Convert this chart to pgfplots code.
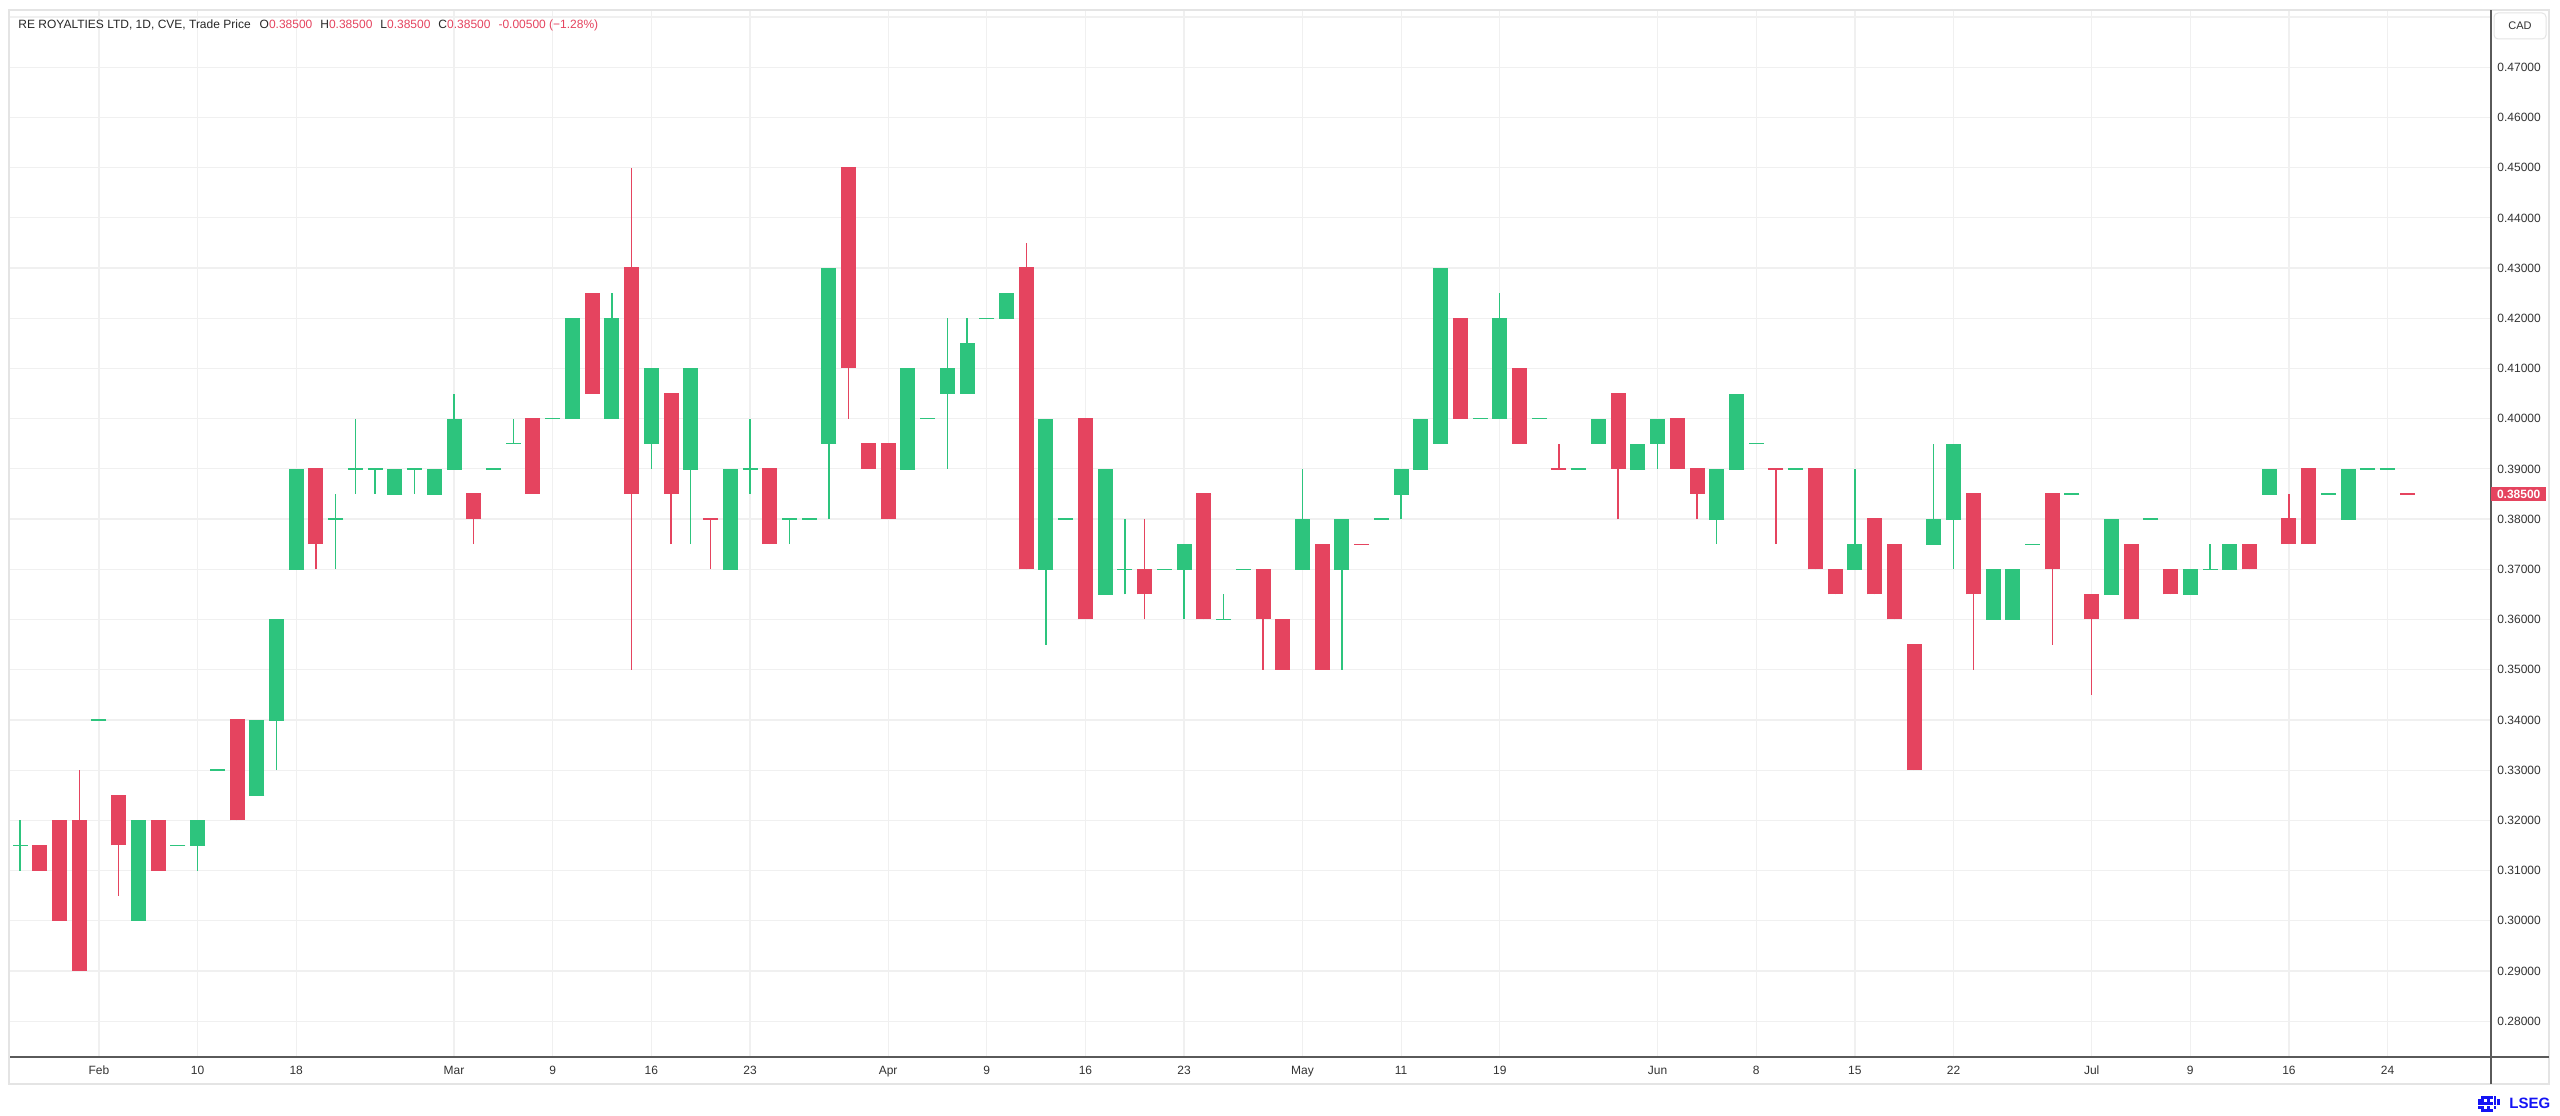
\documentclass[border=0pt]{standalone}
\usepackage{fontspec}
\setmainfont{Liberation Sans}
\usepackage{pgfplots}
\usepackage{pgfplotstable}
\pgfplotsset{compat=1.18}
\definecolor{upcol}{RGB}{45,196,125}
\definecolor{dncol}{RGB}{229,68,95}
\definecolor{gridcol}{RGB}{240,240,240}
\definecolor{tickcol}{RGB}{51,51,51}
\definecolor{hdrcol}{RGB}{40,40,40}
\definecolor{axcol}{RGB}{90,90,90}
\definecolor{framecol}{RGB}{228,228,228}
\definecolor{lsegblue}{RGB}{20,20,245}

% candles: x = trading-day index, o h l c
\pgfplotstableread{
x o h l c
0 0.315 0.32 0.31 0.315
4 0.34 0.34 0.34 0.34
6 0.30 0.32 0.30 0.32
8 0.315 0.315 0.315 0.315
9 0.315 0.32 0.31 0.32
10 0.33 0.33 0.33 0.33
12 0.325 0.34 0.325 0.34
13 0.34 0.36 0.33 0.36
14 0.37 0.39 0.37 0.39
16 0.38 0.385 0.37 0.38
17 0.39 0.40 0.385 0.39
18 0.39 0.39 0.385 0.39
19 0.385 0.39 0.385 0.39
20 0.39 0.39 0.385 0.39
21 0.385 0.39 0.385 0.39
22 0.39 0.405 0.39 0.40
24 0.39 0.39 0.39 0.39
25 0.395 0.40 0.395 0.395
27 0.40 0.40 0.40 0.40
28 0.40 0.42 0.40 0.42
30 0.40 0.425 0.40 0.42
32 0.395 0.41 0.39 0.41
34 0.39 0.41 0.375 0.41
36 0.37 0.39 0.37 0.39
37 0.39 0.40 0.385 0.39
39 0.38 0.38 0.375 0.38
40 0.38 0.38 0.38 0.38
41 0.395 0.43 0.38 0.43
45 0.39 0.41 0.39 0.41
46 0.40 0.40 0.40 0.40
47 0.405 0.42 0.39 0.41
48 0.405 0.42 0.405 0.415
49 0.42 0.42 0.42 0.42
50 0.42 0.425 0.42 0.425
52 0.37 0.40 0.355 0.40
53 0.38 0.38 0.38 0.38
55 0.365 0.39 0.365 0.39
56 0.37 0.38 0.365 0.37
58 0.37 0.37 0.37 0.37
59 0.37 0.375 0.36 0.375
61 0.36 0.365 0.36 0.36
62 0.37 0.37 0.37 0.37
65 0.37 0.39 0.37 0.38
67 0.37 0.38 0.35 0.38
69 0.38 0.38 0.38 0.38
70 0.385 0.39 0.38 0.39
71 0.39 0.40 0.39 0.40
72 0.395 0.43 0.395 0.43
74 0.40 0.40 0.40 0.40
75 0.40 0.425 0.40 0.42
77 0.40 0.40 0.40 0.40
79 0.39 0.39 0.39 0.39
80 0.395 0.40 0.395 0.40
82 0.39 0.395 0.39 0.395
83 0.395 0.40 0.39 0.40
86 0.38 0.39 0.375 0.39
87 0.39 0.405 0.39 0.405
88 0.395 0.395 0.395 0.395
90 0.39 0.39 0.39 0.39
93 0.37 0.39 0.37 0.375
97 0.375 0.395 0.375 0.38
98 0.38 0.395 0.37 0.395
100 0.36 0.37 0.36 0.37
101 0.36 0.37 0.36 0.37
102 0.375 0.375 0.375 0.375
104 0.385 0.385 0.385 0.385
106 0.365 0.38 0.365 0.38
108 0.38 0.38 0.38 0.38
110 0.365 0.37 0.365 0.37
111 0.37 0.375 0.37 0.37
112 0.37 0.375 0.37 0.375
114 0.385 0.39 0.385 0.39
117 0.385 0.385 0.385 0.385
118 0.38 0.39 0.38 0.39
119 0.39 0.39 0.39 0.39
120 0.39 0.39 0.39 0.39
}\upcandles

\pgfplotstableread{
x o h l c
1 0.315 0.315 0.31 0.31
2 0.32 0.32 0.30 0.30
3 0.32 0.33 0.29 0.29
5 0.325 0.325 0.305 0.315
7 0.32 0.32 0.31 0.31
11 0.34 0.34 0.32 0.32
15 0.39 0.39 0.37 0.375
23 0.385 0.385 0.375 0.38
26 0.40 0.40 0.385 0.385
29 0.425 0.425 0.405 0.405
31 0.43 0.45 0.35 0.385
33 0.405 0.405 0.375 0.385
35 0.38 0.38 0.37 0.38
38 0.39 0.39 0.375 0.375
42 0.45 0.45 0.40 0.41
43 0.395 0.395 0.39 0.39
44 0.395 0.395 0.38 0.38
51 0.43 0.435 0.37 0.37
54 0.40 0.40 0.36 0.36
57 0.37 0.38 0.36 0.365
60 0.385 0.385 0.36 0.36
63 0.37 0.37 0.35 0.36
64 0.36 0.36 0.35 0.35
66 0.375 0.375 0.35 0.35
68 0.375 0.375 0.375 0.375
73 0.42 0.42 0.40 0.40
76 0.41 0.41 0.395 0.395
78 0.39 0.395 0.39 0.39
81 0.405 0.405 0.38 0.39
84 0.40 0.40 0.39 0.39
85 0.39 0.39 0.38 0.385
89 0.39 0.39 0.375 0.39
91 0.39 0.39 0.37 0.37
92 0.37 0.37 0.365 0.365
94 0.38 0.38 0.365 0.365
95 0.375 0.375 0.36 0.36
96 0.355 0.355 0.33 0.33
99 0.385 0.385 0.35 0.365
103 0.385 0.385 0.355 0.37
105 0.365 0.365 0.345 0.36
107 0.375 0.375 0.36 0.36
109 0.37 0.37 0.365 0.365
113 0.375 0.375 0.37 0.37
115 0.38 0.385 0.375 0.375
116 0.39 0.39 0.375 0.375
121 0.385 0.385 0.385 0.385
}\downcandles

\begin{document}
\begin{tikzpicture}
\fill[white, use as bounding box] (0pt,0pt) rectangle (1280pt,557.5pt);
\begin{axis}[
  at={(5pt,29pt)}, anchor=south west,
  scale only axis, width=1240.5pt, height=523.5pt,
  xmin=-0.507, xmax=125.24, ymin=0.27285, ymax=0.48141,
  axis line style={draw=none},
  major tick length=0pt, tick style={draw=none},
  grid=major, major grid style={draw=gridcol, line width=0.6pt},
  xtick={4,9,14,22,27,32,37,44,49,54,59,65,70,75,83,88,93,98,105,110,115,120},
  xticklabels={Feb,10,18,Mar,9,16,23,Apr,9,16,23,May,11,19,Jun,8,15,22,Jul,9,16,24},
  ytick={0.28,0.29,0.30,0.31,0.32,0.33,0.34,0.35,0.36,0.37,0.38,0.39,0.40,0.41,0.42,0.43,0.44,0.45,0.46,0.47},
  extra y ticks={0.48}, extra y tick labels={},
  extra y tick style={grid=major, major grid style={draw=gridcol, line width=0.6pt}},
  yticklabel pos=right,
  scaled y ticks=false,
  yticklabel style={/pgf/number format/fixed, /pgf/number format/fixed zerofill,
    /pgf/number format/precision=5, /pgf/number format/assume math mode=true,
    anchor=west, inner sep=0pt, xshift=3pt},
  ticklabel style={font=\fontsize{6}{7}\selectfont, text=tickcol},
  xticklabel style={anchor=base, yshift=-8.65pt},
  candle/.style={draw=none, mark=none, forget plot,
    error bars/y dir=plus, error bars/y explicit, error bars/error mark=none},
]
% wicks
\addplot[candle, error bars/error bar style={line width=0.65pt, draw=upcol}]
  table[x=x, y=l, y error plus expr=\thisrow{h}-\thisrow{l}] {\upcandles};
\addplot[candle, error bars/error bar style={line width=0.65pt, draw=dncol}]
  table[x=x, y=l, y error plus expr=\thisrow{h}-\thisrow{l}] {\downcandles};
% open level dashes (visible for doji)
\addplot[only marks, mark=-, mark size=3.75pt, mark options={line width=0.65pt, draw=upcol}, forget plot]
  table[x=x, y=o] {\upcandles};
\addplot[only marks, mark=-, mark size=3.75pt, mark options={line width=0.65pt, draw=dncol}, forget plot]
  table[x=x, y=o] {\downcandles};
% bodies
\addplot[candle, error bars/error bar style={line width=7.5pt, draw=upcol}]
  table[x=x, y expr={min(\thisrow{o},\thisrow{c})}, y error plus expr={abs(\thisrow{c}-\thisrow{o})}] {\upcandles};
\addplot[candle, error bars/error bar style={line width=7.5pt, draw=dncol}]
  table[x=x, y expr={min(\thisrow{o},\thisrow{c})}, y error plus expr={abs(\thisrow{c}-\thisrow{o})}] {\downcandles};
\end{axis}
% frame and axis lines
\draw[framecol, line width=0.6pt] (4.5pt,15.5pt) rectangle (1274.5pt,552.5pt);
\draw[axcol, line width=0.75pt] (5pt,29pt) -- (1274.5pt,29pt);
\draw[axcol, line width=0.75pt] (1245.5pt,15.5pt) -- (1245.5pt,552.5pt);
% header
\node[anchor=west, inner sep=0pt, font=\fontsize{6}{7}\selectfont, text=hdrcol] at (9pt,545pt)
  {RE ROYALTIES LTD, 1D, CVE, Trade Price\hspace{4.5pt}O\textcolor{dncol}{0.38500}\hspace{4pt}H\textcolor{dncol}{0.38500}\hspace{4pt}L\textcolor{dncol}{0.38500}\hspace{4pt}C\textcolor{dncol}{0.38500}\hspace{4pt}\textcolor{dncol}{-0.00500 (−1.28\%)}};
% currency box
\draw[framecol, line width=0.5pt, rounded corners=2pt, fill=white] (1247pt,538pt) rectangle (1273pt,551pt);
\node[font=\fontsize{5.5}{6}\selectfont, text=tickcol] at (1260pt,544.5pt) {CAD};
% last price tag
\fill[dncol] (1245.5pt,307pt) rectangle (1273pt,314pt);
\node[anchor=west, inner sep=0pt, font=\fontsize{6}{7}\selectfont\bfseries, text=white] at (1248.3pt,310.5pt) {0.38500};
% LSEG logo
\begin{scope}[lsegblue]
\foreach \i/\j in {0/1,0/2,0/3,1/0,1/1,1/2,1/3,1/4,2/0,2/2,2/4,3/0,3/1,3/2,3/3,3/4,4/0,4/2,4/4,5/1,5/2,5/3,5/4,6/2,6/3}
  \fill (1239pt+\i*1.55pt,1.6pt+\j*1.6pt) rectangle ++(1.45pt,1.5pt);
\end{scope}
\node[anchor=west, inner sep=0pt, font=\fontsize{7.5}{8}\selectfont\bfseries, text=lsegblue] at (1254.5pt,5.6pt) {LSEG};
\end{tikzpicture}
\end{document}
